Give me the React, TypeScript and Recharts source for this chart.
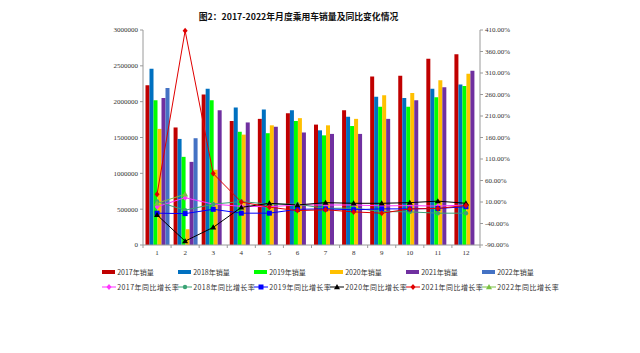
import { ComposedChart, Bar, Line, XAxis, YAxis } from 'recharts'

const months = ['1', '2', '3', '4', '5', '6', '7', '8', '9', '10', '11', '12']

// monthly passenger car sales
const sales2017 = [2230000, 1640000, 2100000, 1730000, 1760000, 1840000, 1680000, 1880000, 2350000, 2360000, 2600000, 2660000]
const sales2018 = [2460000, 1480000, 2180000, 1920000, 1890000, 1880000, 1600000, 1790000, 2070000, 2050000, 2180000, 2240000]
const sales2019 = [2020000, 1230000, 2020000, 1580000, 1560000, 1730000, 1530000, 1660000, 1930000, 1930000, 2060000, 2220000]
const sales2020 = [1620000, 220000, 1050000, 1540000, 1670000, 1770000, 1670000, 1760000, 2090000, 2120000, 2300000, 2390000]
const sales2021 = [2050000, 1160000, 1880000, 1710000, 1650000, 1570000, 1550000, 1550000, 1760000, 2020000, 2200000, 2430000]
const sales2022 = [2190000, 1490000, null, null, null, null, null, null, null, null, null, null]

// year-on-year growth, %
const yoy2017 = [-1, 20, 5, 0, -1, 3, 3, 3, 1, 1.5, 0.5, 3]
const yoy2018 = [11, -9, 5, 11, 5, 5, -5, -4, -12, -13, -16, -16]
const yoy2019 = [-16, -17, -7, -16, -16, -7, -6, -8, -6, -6, -5, -1]
const yoy2020 = [-20, -81, -49, -2.5, 7, 3, 8.5, 7, 7, 8.5, 12, 7]
const yoy2021 = [28, 408, 76, 10, -2, -10, -8, -13, -16, -6, -5, 2]
const yoy2022 = [7, 28, null, null, null, null, null, null, null, null, null, null]

const salesTicks = [0, 500000, 1000000, 1500000, 2000000, 2500000, 3000000]
const pctTicks = [-90, -40, 10, 60, 110, 160, 210, 260, 310, 360, 410]

const barSeries = [
  { key: 's2017', name: '2017年销量', color: '#C00000', values: sales2017 },
  { key: 's2018', name: '2018年销量', color: '#0070C0', values: sales2018 },
  { key: 's2019', name: '2019年销量', color: '#00FF00', values: sales2019 },
  { key: 's2020', name: '2020年销量', color: '#FFC000', values: sales2020 },
  { key: 's2021', name: '2021年销量', color: '#7030A0', values: sales2021 },
  { key: 's2022', name: '2022年销量', color: '#4472C4', values: sales2022 },
]

const lineSeries = [
  { key: 'y2017', name: '2017年同比增长率', color: '#FF33FF', shape: 'diamond', values: yoy2017 },
  { key: 'y2018', name: '2018年同比增长率', color: '#3AA374', shape: 'circle', values: yoy2018 },
  { key: 'y2019', name: '2019年同比增长率', color: '#0000FF', shape: 'square', values: yoy2019 },
  { key: 'y2020', name: '2020年同比增长率', color: '#000000', shape: 'triangle', values: yoy2020 },
  { key: 'y2021', name: '2021年同比增长率', color: '#E00000', shape: 'diamond', values: yoy2021 },
  { key: 'y2022', name: '2022年同比增长率', color: '#7AC143', shape: 'triangle', values: yoy2022 },
]

const chartData = months.map((m, i) => {
  const row: Record<string, string | number | null> = { month: m }
  barSeries.forEach(s => { row[s.key] = s.values[i] })
  lineSeries.forEach(s => { row[s.key] = s.values[i] })
  return row
})

const W = 640
const H = 353
const margin = { top: 30, right: 100, bottom: 88, left: 103 }
const leftW = 40
const rightW = 60
const xH = 20
const plotLeft = margin.left + leftW
const plotRight = W - margin.right - rightW
const axisY = H - margin.bottom - xH
const band = (plotRight - plotLeft) / months.length

const axisColor = '#9a9a9a'
const tickFont = { fontSize: 7, fill: '#333', fontFamily: '"Liberation Serif", serif' }
const cjk = '"Noto Sans CJK SC", sans-serif'

function Marker({ cx, cy, shape, color }: { cx?: number; cy?: number | null; shape: string; color: string }) {
  if (cx == null || cy == null || Number.isNaN(cy)) return null
  if (shape === 'square') return <rect x={cx - 2.5} y={cy - 2.5} width={5} height={5} fill={color} />
  if (shape === 'triangle')
    return <polygon points={`${cx},${cy - 3} ${cx + 3},${cy + 2.2} ${cx - 3},${cy + 2.2}`} fill={color} />
  if (shape === 'diamond')
    return <polygon points={`${cx},${cy - 3} ${cx + 2.5},${cy} ${cx},${cy + 3} ${cx - 2.5},${cy}`} fill={color} />
  return <circle cx={cx} cy={cy} r={2.2} fill={color} />
}

function MonthTick(props: any) {
  const { x, payload, index } = props
  const half = band / 2
  return (
    <g>
      <line x1={x - half} x2={x - half} y1={axisY} y2={axisY + 3} stroke={axisColor} />
      {index === months.length - 1 && (
        <line x1={x + half} x2={x + half} y1={axisY} y2={axisY + 3} stroke={axisColor} />
      )}
      <text x={x} y={axisY + 10} textAnchor="middle" {...tickFont}>
        {payload.value}
      </text>
    </g>
  )
}

function Legend() {
  const x0 = 101.7
  const step = 76
  return (
    <div style={{ position: 'absolute', left: 0, top: 0, width: W, height: 300 }}>
      {barSeries.map((s, i) => (
        <div
          key={s.key}
          style={{ position: 'absolute', left: x0 + i * step, top: 266, display: 'flex', alignItems: 'center', whiteSpace: 'nowrap' }}
        >
          <div style={{ width: 13, height: 4.5, background: s.color, marginRight: 2.5 }} />
          <span style={{ fontFamily: cjk, fontSize: 7, color: '#333', lineHeight: '12px' }}>{s.name}</span>
        </div>
      ))}
      {lineSeries.map((s, i) => (
        <div
          key={s.key}
          style={{ position: 'absolute', left: x0 + i * step, top: 281, display: 'flex', alignItems: 'center', whiteSpace: 'nowrap' }}
        >
          <svg width={14} height={8} style={{ marginRight: 1.5 }}>
            <line x1={0} x2={14} y1={4} y2={4} stroke={s.color} strokeWidth={1} />
            <Marker cx={7} cy={4} shape={s.shape} color={s.color} />
          </svg>
          <span style={{ fontFamily: cjk, fontSize: 7, color: '#333', lineHeight: '12px', letterSpacing: 0.45 }}>{s.name}</span>
        </div>
      ))}
    </div>
  )
}

export default function App() {
  return (
    <div style={{ position: 'absolute', left: 0, top: 0, width: W, height: H, background: '#fff' }}>
      <div
        style={{
          position: 'absolute',
          left: 0,
          width: 597,
          top: 10,
          textAlign: 'center',
          fontFamily: cjk,
          fontWeight: 700,
          fontSize: 8.8,
          color: '#111',
        }}
      >
        图2：2017-2022年月度乘用车销量及同比变化情况
      </div>
      <ComposedChart width={W} height={H} data={chartData} margin={margin} barCategoryGap={2.5} barGap={0}>
        <XAxis
          dataKey="month"
          height={xH}
          stroke={axisColor}
          tickLine={false}
          tick={<MonthTick />}
          interval={0}
        />
        <YAxis
          yAxisId="left"
          width={leftW}
          domain={[0, 3000000]}
          ticks={salesTicks}
          interval={0}
          stroke={axisColor}
          tickSize={3}
          tickMargin={2}
          tick={tickFont}
        />
        <YAxis
          yAxisId="right"
          orientation="right"
          width={rightW}
          domain={[-90, 410]}
          ticks={pctTicks}
          interval={0}
          stroke={axisColor}
          tickSize={3}
          tickMargin={2}
          tick={{ ...tickFont, textAnchor: 'start' }}
          tickFormatter={(v: number) => `${v.toFixed(2)}%`}
        />
        {barSeries.map(s => (
          <Bar key={s.key} yAxisId="left" dataKey={s.key} name={s.name} fill={s.color} isAnimationActive={false} />
        ))}
        {lineSeries.map(s => (
          <Line
            key={s.key}
            yAxisId="right"
            type="linear"
            dataKey={s.key}
            name={s.name}
            stroke={s.color}
            strokeWidth={1}
            isAnimationActive={false}
            dot={(p: any) => (
              <g key={`${s.key}-${p.index}`}>
                <Marker cx={p.cx} cy={p.cy} shape={s.shape} color={s.color} />
              </g>
            )}
            activeDot={false}
          />
        ))}
      </ComposedChart>
      <Legend />
    </div>
  )
}
